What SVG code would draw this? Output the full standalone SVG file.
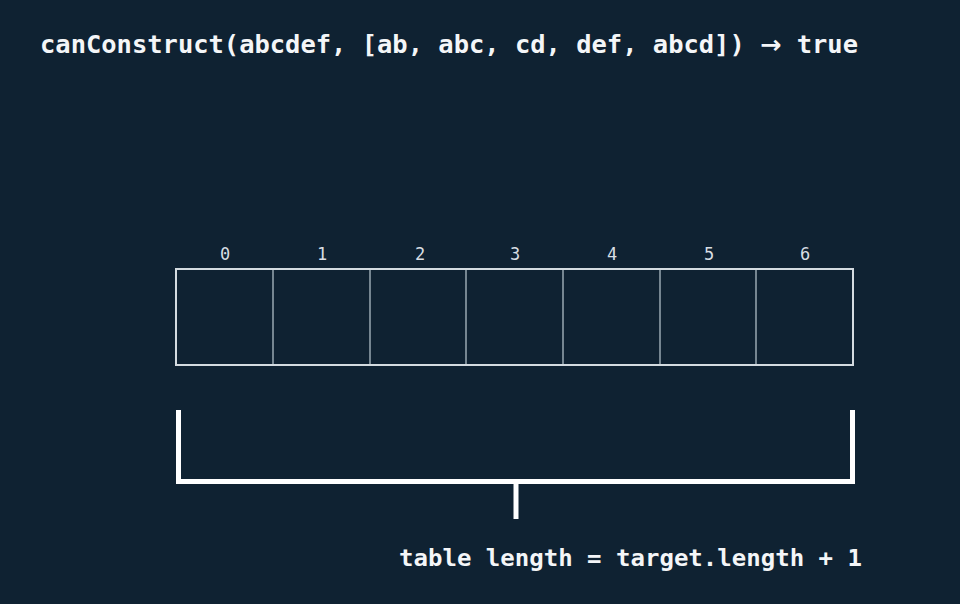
<svg xmlns="http://www.w3.org/2000/svg" width="960" height="604" viewBox="0 0 960 604">
<style>
.title{font-family:"DejaVu Sans Mono","Liberation Mono",monospace;font-weight:bold;fill:#f4f6f8;}
.idx{font-family:"DejaVu Sans Mono","Liberation Mono",monospace;font-size:17px;fill:#d8dee3;text-anchor:middle;}
.cell{fill:none;stroke:#9aa8b2;stroke-width:1.5;}
.outer{fill:none;stroke:#d4dbe0;stroke-width:2;}
.br{fill:none;stroke:#ffffff;stroke-width:5;stroke-linecap:butt;}
</style>
<rect width="960" height="604" fill="#0f2232"/>
<text class="title" x="40" y="53" font-size="25" textLength="818" lengthAdjust="spacingAndGlyphs">canConstruct(abcdef, [ab, abc, cd, def, abcd]) <tspan font-family="DejaVu Sans, sans-serif">→</tspan> true</text>
<g id="table">
<g id="cell0"><text class="idx" x="225" y="260">0</text></g>
<g id="cell1"><text class="idx" x="322" y="260">1</text><line class="cell" x1="273" y1="270" x2="273" y2="364"/></g>
<g id="cell2"><text class="idx" x="420" y="260">2</text><line class="cell" x1="370" y1="270" x2="370" y2="364"/></g>
<g id="cell3"><text class="idx" x="515" y="260">3</text><line class="cell" x1="466" y1="270" x2="466" y2="364"/></g>
<g id="cell4"><text class="idx" x="612" y="260">4</text><line class="cell" x1="563" y1="270" x2="563" y2="364"/></g>
<g id="cell5"><text class="idx" x="709" y="260">5</text><line class="cell" x1="660" y1="270" x2="660" y2="364"/></g>
<g id="cell6"><text class="idx" x="805" y="260">6</text><line class="cell" x1="756" y1="270" x2="756" y2="364"/></g>
<rect class="outer" x="176" y="269" width="677" height="96"/>
</g>
<g id="bracket">
<path class="br" d="M178.5 410 V481.5 H852.5 V410"/>
<line class="br" x1="516" y1="481" x2="516" y2="519"/>
</g>
<g id="label">
<text class="title" x="399" y="566" font-size="23" textLength="463" lengthAdjust="spacingAndGlyphs">table length = target.length + 1</text>
</g>
</svg>
